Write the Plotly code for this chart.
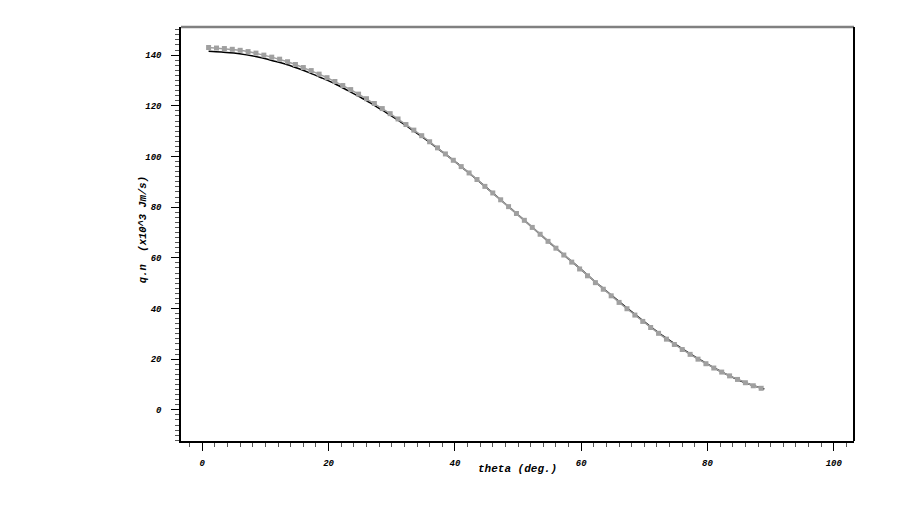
import plotly.graph_objects as go

# Numerical solution (gray squares)
theta_num = [1, 2.25, 3.5, 4.75, 6, 7.25, 8.5, 9.75, 11, 12.25, 13.5, 14.75, 16, 17.25,
             18.5, 19.75, 21, 22.25, 23.5, 24.75, 26, 27.25, 28.5, 29.75, 31, 32.25,
             33.5, 34.75, 36, 37.25, 38.5, 39.75, 41, 42.25, 43.5, 44.75, 46, 47.25,
             48.5, 49.75, 51, 52.25, 53.5, 54.75, 56, 57.25, 58.5, 59.75, 61, 62.25,
             63.5, 64.75, 66, 67.25, 68.5, 69.75, 71, 72.25, 73.5, 74.75, 76, 77.25,
             78.5, 79.75, 81, 82.25, 83.5, 84.75, 86, 87.25, 88.5]
q_num = [143.0, 142.8, 142.6, 142.3, 141.9, 141.4, 140.8, 140.0, 139.2, 138.4, 137.4,
         136.3, 135.1, 133.9, 132.5, 131.1, 129.6, 128.0, 126.4, 124.6, 122.8, 120.9,
         118.9, 116.9, 114.8, 112.6, 110.4, 108.2, 105.8, 103.4, 101.0, 98.5, 96.0,
         93.5, 90.9, 88.2, 85.6, 82.9, 80.2, 77.5, 74.8, 72.0, 69.3, 66.5, 63.8, 61.1,
         58.3, 55.6, 52.9, 50.2, 47.6, 45.0, 42.4, 39.9, 37.4, 34.9, 32.5, 30.2, 27.9,
         25.8, 23.8, 21.9, 20.0, 18.2, 16.5, 14.9, 13.4, 12.0, 10.7, 9.5, 8.5]

# Analytical solution (black line)
theta_ana = [1, 3, 5, 7, 9, 11, 13, 15, 17, 19, 21, 23, 25, 27, 29, 31, 33, 35, 37, 39,
             41, 43, 45, 47, 49, 51, 53, 55, 57, 59, 61, 63, 65, 67, 69, 71, 73, 75, 77,
             79, 81, 83, 85, 87, 89]
q_ana = [141.5, 141.2, 140.8, 140.1, 139.2, 137.9, 136.6, 134.9, 133.0, 130.9, 128.7,
         126.1, 123.4, 120.6, 117.5, 114.3, 110.9, 107.4, 103.7, 99.9, 96.0, 91.9, 87.7,
         83.4, 79.1, 74.8, 70.4, 66.0, 61.7, 57.5, 53.2, 48.9, 44.8, 40.7, 36.7, 32.8,
         29.1, 25.7, 22.5, 19.5, 16.6, 14.0, 11.7, 9.8, 8.2]

x_ticks = [0, 20, 40, 60, 80, 100]
y_ticks = [0, 20, 40, 60, 80, 100, 120, 140]

FONT = "Liberation Mono"

fig = go.Figure()
fig.add_trace(go.Scatter(x=theta_ana, y=q_ana, mode="lines", line=dict(color="black", width=1.5, shape="spline"),
                         showlegend=False, hoverinfo="skip"))
fig.add_trace(go.Scatter(x=theta_num, y=q_num, mode="lines+markers",
                         line=dict(color="#a0a0a0", width=1.5),
                         marker=dict(symbol="square", size=5, color="#a0a0a0"),
                         showlegend=False))

tickfont = dict(family=FONT, size=9, color="black", weight="bold", style="italic")
fig.update_xaxes(range=[-3.37, 103.2], tickvals=x_ticks, ticktext=[str(v) for v in x_ticks],
                 ticks="outside", ticklen=8, tickwidth=1.2, tickcolor="black",
                 showline=True, linecolor="black", linewidth=2, showgrid=False, zeroline=False,
                 tickfont=tickfont, ticklabelstandoff=4,
                 minor=dict(dtick=2, tick0=0, ticks="outside", ticklen=4, tickcolor="#555555", tickwidth=1))
fig.update_yaxes(range=[-12.3, 151.1], tickvals=y_ticks, ticktext=[str(v) for v in y_ticks],
                 ticks="outside", ticklen=8, tickwidth=1.2, tickcolor="black",
                 showline=True, linecolor="black", linewidth=1.5, showgrid=False, zeroline=False,
                 tickfont=tickfont, ticklabelstandoff=8,
                 minor=dict(dtick=2, tick0=0, ticks="outside", ticklen=4, tickcolor="#555555", tickwidth=1))

fig.add_shape(type="line", xref="paper", yref="paper", x0=0, x1=1, y0=1, y1=1,
              line=dict(color="#808080", width=2.5))
fig.add_shape(type="line", xref="paper", yref="paper", x0=1, x1=1, y0=0, y1=1,
              line=dict(color="black", width=2))

fig.add_annotation(text="theta (deg.)", xref="paper", yref="paper", x=0.5, y=-0.067,
                   showarrow=False, xanchor="center", yanchor="middle",
                   font=dict(family=FONT, size=11, color="black", weight="bold", style="italic"))
fig.add_annotation(text="q.n\u00a0\u00a0(x10^3 Jm/s)", xref="paper", yref="paper", x=-0.056, y=0.51,
                   showarrow=False, textangle=-90, xanchor="center", yanchor="middle",
                   font=dict(family=FONT, size=10.5, color="black", weight="bold", style="italic"))

fig.update_layout(width=900, height=520, margin=dict(l=173, r=54, t=19, b=87),
                  plot_bgcolor="white", paper_bgcolor="white")

fig.write_html("out.html")
